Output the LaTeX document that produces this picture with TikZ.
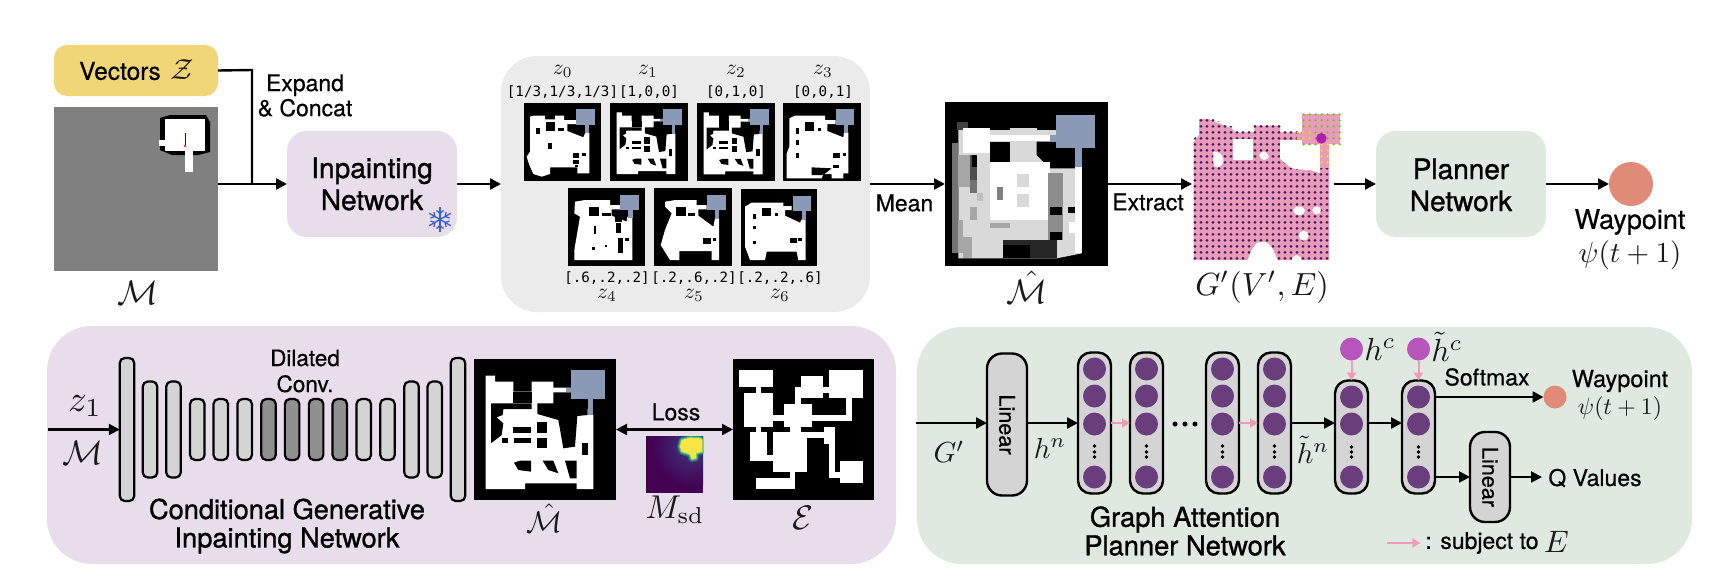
\documentclass[tikz,border=0pt]{standalone}
\usepackage[no-math]{fontspec}
\setmainfont[FakeBold=0.45]{TeX Gyre Heros}
\newfontfamily\medfont[FakeBold=1.1]{TeX Gyre Heros}
\newfontfamily\vecfont{DejaVu Sans Mono}
\usepackage{amsmath}
\usetikzlibrary{arrows.meta}
\definecolor{cyel}{HTML}{F0D677}
\definecolor{cpur}{HTML}{E8DDEB}
\definecolor{cgrn}{HTML}{DFE9DF}
\definecolor{cgry}{HTML}{EBEBEB}
\definecolor{cblu}{HTML}{8A99B5}
\definecolor{cbar}{HTML}{D4D4D4}
\definecolor{cdrk}{HTML}{8F8F8F}
\definecolor{cvio}{HTML}{6A3D7C}
\definecolor{cmag}{HTML}{B855BC}
\definecolor{csal}{HTML}{E08A78}
\definecolor{cpnk}{HTML}{F29BB5}
\definecolor{cgpk}{HTML}{E99BB9}
\definecolor{cdot}{HTML}{3F1A60}
\definecolor{csno}{HTML}{3A5FCD}
\definecolor{cpos}{HTML}{B01FB0}
\definecolor{vira}{RGB}{68,1,84}
\definecolor{vird}{RGB}{59,82,139}
\definecolor{vire}{RGB}{33,145,140}
\definecolor{virf}{RGB}{94,201,98}
\definecolor{virg}{RGB}{250,228,70}
\newcommand{\rectf}[5]{\fill[#1] (#2,#3) rectangle (#4,#5);}
\newcommand{\bkr}[4]{\fill[black] (#1,#2) rectangle (#3,#4);}
\newcommand{\wtr}[4]{\fill[white] (#1,#2) rectangle (#3,#4);}
\newcommand{\blr}[4]{\fill[cblu] (#1,#2) rectangle (#3,#4);}
% map A, in the frame of a 426 wide image whose corner is at (42,57)
\newcommand{\mapA}[3]{\begin{scope}[shift={(#1,#2)},scale={#3/426}]\begin{scope}[shift={(-42,-57)}]
\fill[white] (77,107)--(105,107)--(105,125)--(160,125)--(160,155)--(215,155)--(215,125)--(280,125)--(280,143)--(332,143)--(332,157)--(400,225)--(400,447)--(350,447)--(350,430)--(195,430)--(195,447)--(77,447)--cycle;
\fill[black] (160,155)--(215,155)--(215,190)--(160,190)--cycle;
\fill[black] (93,190)--(215,190)--(215,207)--(130,207)--(128,225)--(110,232)--(130,250)--(125,285)--(93,310)--cycle;
\fill[black] (232,190)--(280,190)--(280,157)--(332,157)--(383,178)--(383,225)--(352,228)--(345,320)--(310,325)--(295,240)--(232,222)--cycle;
\bkr{230}{245}{262}{280}\bkr{230}{293}{262}{325}\bkr{160}{262}{213}{280}\bkr{127}{295}{143}{310}\bkr{162}{295}{213}{310}\bkr{365}{310}{383}{345}
\fill[black] (162,368)--(180,362)--(213,362)--(213,395)--(175,390)--cycle;
\fill[black] (248,362)--(280,362)--(295,400)--(265,390)--cycle;
\fill[black] (315,362)--(350,362)--(350,415)--(330,415)--cycle;
\blr{332}{90}{435}{178}\blr{318}{143}{332}{157}\blr{383}{178}{400}{225}
\end{scope}\end{scope}}
\tikzset{
  x=1pt,y=-1pt,
  every node/.style={inner sep=0pt,outer sep=0pt},
  lab/.style={align=center,font=\fontsize{23}{25}\selectfont},
  headlab/.style={align=center,font=\fontsize{28}{32}\selectfont\medfont},
  mainlab/.style={align=center,font=\fontsize{27.2}{28.5}\selectfont\medfont},
  vlab/.style={font=\fontsize{14.2}{16}\selectfont\vecfont},
  mth/.style={text=black!90},
  img/.style={fill=black},
  bar/.style={draw=black,line width=2.2pt,fill=cbar,rounded corners=5pt,minimum width=14.5pt},
  darkbar/.style={bar,fill=cdrk},
  col/.style={draw=black,line width=2.4pt,fill=cbar,rounded corners=13pt,minimum width=33pt},
  linbox/.style={draw=black,line width=2.4pt,fill=cbar,rounded corners=15pt,minimum width=40pt},
  cell/.style={circle,fill=cvio,minimum size=23pt},
  top/.style={circle,fill=cmag,minimum size=23pt},
  conn/.style={line width=2.4pt,-{Triangle[length=11pt,width=11pt]},shorten >=0pt},
  line/.style={line width=2.4pt},
  both/.style={line width=2.4pt,{Triangle[length=11pt,width=11pt]}-{Triangle[length=11pt,width=11pt]}},
  pk/.style={line width=2pt,color=cpnk,-{Triangle[length=8pt,width=9pt]}},
}
\begin{document}
\begin{tikzpicture}
\path[fill=white,use as bounding box] (0,0) rectangle (1734,587);
\coordinate (y423) at (0,423);
\coordinate (y397) at (0,397);
\coordinate (y477) at (0,477);

% ---------- top row ----------
\node[fill=cyel,rounded corners=13pt,minimum width=164pt,minimum height=51pt] (vec) at (136,70.5) {};
\node[font=\fontsize{24.5}{26}\selectfont] (vectxt) at (120,71) {Vectors};
\node[mth,scale=2.9] (vecz) at (182,70) {$\mathcal{Z}$};

\node[fill=gray,minimum width=164pt,minimum height=164pt] (mapm) at (136,189) {};
\fill[black] (160,118)--(170,115)--(206,115)--(210,122)--(210,152)--(198,155)--(172,155)--(160,150)--cycle;
\wtr{165}{119}{205}{151}
\wtr{185}{151}{193}{172}
\wtr{159}{140}{165}{146}
\draw[blue!80!black,line width=.8pt] (185,133)--(185,145);
\fill[magenta!70!black] (185,146) circle[radius=1.4];
\node[mth,scale=3.4] (mlab) at (138,293) {$\mathcal{M}$};

\node[lab] (expand) at (305,95.5) {Expand\\\& Concat};

\node[fill=cpur,rounded corners=20pt,minimum width=170pt,minimum height=106pt] (inp) at (372,184) {};
\node[headlab] (inptxt) at (372,184) {Inpainting\\Network};
\foreach \a in {90,30,150}{
  \begin{scope}[shift={(440,219.5)},rotate=\a,line width=1.3pt,color=csno]
    \draw (-12.5,0)--(12.5,0);
    \foreach \s in {1,-1}{\draw (\s*9,-3.5)--(\s*6,0)--(\s*9,3.5);}
  \end{scope}
}

\node[fill=cgry,rounded corners=36pt,minimum width=369pt,minimum height=256pt] (pane) at (685.5,184) {};
\foreach \n/\x/\y in {z0/562.7/z_0,z1/648/z_1,z2/736/z_2,z3/823/z_3}{
  \node[mth,scale=2.15] (l\n) at (\x,71) {$\y$};
}
\foreach \n/\x/\y in {z4/607/z_4,z5/694/z_5,z6/780/z_6}{
  \node[mth,scale=2.15] (l\n) at (\x,295) {$\y$};
}
\node[vlab] (v0) at (562.5,92) {[1/3,1/3,1/3]};
\node[vlab] (v1) at (649,92) {[1,0,0]};
\node[vlab] (v2) at (736,92) {[0,1,0]};
\node[vlab] (v3) at (823,92) {[0,0,1]};
\node[vlab] (v4) at (607,278) {[.6,.2,.2]};
\node[vlab] (v5) at (694,278) {[.2,.6,.2]};
\node[vlab] (v6) at (780,278) {[.2,.2,.6]};

\node[img,minimum width=76.7pt,minimum height=77.4pt] (t0) at (562.3,142) {};
\node[img,minimum width=77.4pt,minimum height=77.4pt] (t1) at (649,142) {};
\node[img,minimum width=77.7pt,minimum height=77.4pt] (t2) at (736.1,142) {};
\node[img,minimum width=77.7pt,minimum height=77.4pt] (t3) at (822.2,142) {};
\node[img,minimum width=77.3pt,minimum height=77.7pt] (t4) at (606.7,227.2) {};
\node[img,minimum width=77.4pt,minimum height=77.7pt] (t5) at (693,227.2) {};
\node[img,minimum width=76.3pt,minimum height=77pt] (t6) at (779.2,227.5) {};
\mapA{610.3}{103.3}{77.4}
\mapA{697.3}{103.3}{77.7}
\begin{scope}[shift={(490,50)},scale=1/3]
% z0
\fill[white] (132,197)--(165,197)--(165,208)--(195,208)--(195,197)--(222,197)--(222,210)--(258,210)--(258,222)--(232,222)--(232,243)--(280,262)--(285,250)--(298,248)--(298,370)--(262,370)--(262,352)--(180,352)--(180,372)--(155,380)--(130,372)--(118,345)--(110,320)--(120,305)--(120,200)--cycle;
\bkr{168}{215}{195}{243}\bkr{205}{233}{222}{243}\bkr{138}{233}{150}{252}\bkr{175}{278}{187}{297}\bkr{248}{308}{268}{325}\bkr{275}{308}{287}{317}\bkr{250}{330}{268}{342}\bkr{255}{345}{265}{352}
\blr{258}{178}{314}{225}\blr{285}{225}{298}{250}
% z3
\fill[white] (898,205)--(915,197)--(1005,197)--(1005,210)--(1037,210)--(1037,222)--(1012,222)--(1012,243)--(1060,262)--(1062,248)--(1075,248)--(1075,370)--(1060,370)--(1060,385)--(1025,385)--(1025,372)--(1000,372)--(995,385)--(890,385)--(890,310)--(898,290)--cycle;
\bkr{945}{215}{972}{243}\bkr{985}{233}{993}{243}\bkr{918}{233}{927}{252}\bkr{918}{270}{927}{285}\bkr{918}{308}{927}{325}\bkr{1030}{308}{1050}{325}\bkr{1058}{308}{1067}{317}\bkr{1030}{345}{1048}{353}
\fill[black] (965,352)--(1025,355)--(1000,375)--(965,375)--cycle;
\blr{1037}{178}{1093}{225}\blr{1062}{225}{1075}{250}
% z4
\fill[white] (255,455)--(285,450)--(360,450)--(360,465)--(390,465)--(390,478)--(365,478)--(365,497)--(410,515)--(412,500)--(427,505)--(427,630)--(253,630)--(253,600)--(270,500)--(253,490)--cycle;
\bkr{298}{472}{327}{498}\bkr{337}{490}{362}{497}\bkr{312}{527}{318}{552}\bkr{378}{520}{392}{550}\bkr{305}{590}{315}{600}\bkr{345}{585}{352}{592}\bkr{385}{565}{400}{610}\bkr{405}{565}{418}{572}\bkr{375}{500}{395}{515}
\blr{390}{435}{447}{481}\blr{415}{481}{428}{505}
% z5
\fill[white] (525,455)--(557,450)--(620,450)--(620,465)--(650,465)--(650,478)--(625,478)--(625,497)--(670,530)--(675,505)--(687,505)--(687,630)--(665,630)--(665,603)--(568,603)--(568,630)--(540,630)--(512,585)--(525,540)--(545,490)--(525,470)--cycle;
\bkr{558}{472}{587}{498}\bkr{595}{490}{615}{498}\bkr{640}{565}{662}{583}\bkr{670}{565}{678}{572}
\blr{650}{435}{707}{481}\blr{675}{481}{688}{505}
% z6
\fill[white] (765,470)--(785,458)--(880,458)--(880,468)--(905,468)--(905,480)--(885,480)--(885,497)--(930,518)--(935,508)--(947,508)--(947,630)--(925,630)--(920,605)--(830,605)--(825,630)--(780,630)--(765,590)--cycle;
\bkr{817}{475}{843}{498}\bkr{855}{490}{863}{498}\bkr{788}{492}{798}{508}\bkr{788}{527}{798}{537}\bkr{788}{572}{798}{583}\bkr{900}{565}{920}{580}\bkr{925}{565}{935}{572}
\blr{908}{437}{964}{483}\blr{935}{483}{948}{508}
\end{scope}

% mean map
\node[img,minimum width=163pt,minimum height=164pt] (mean) at (1026.5,184) {};
\begin{scope}[shift={(900,80)},scale=1/3]
\rectf{black!75}{172}{125}{205}{150}
\rectf{black!55}{155}{190}{175}{520}
\fill[black!15] (175,150)--(545,150)--(545,520)--(470,535)--(175,535)--cycle;
\rectf{white}{190}{145}{270}{220}
\rectf{black!15}{330}{145}{410}{220}
\rectf{black}{270}{185}{330}{245}
\fill[black] (410,185)--(530,185)--(530,265)--(490,265)--(450,265)--(410,225)--cycle;
\rectf{white}{270}{165}{470}{182}
\rectf{white}{270}{245}{450}{420}
\rectf{black!15}{350}{283}{388}{322}
\rectf{black!15}{350}{343}{388}{380}
\rectf{black!35}{175}{225}{210}{320}
\rectf{black!70}{210}{225}{232}{300}
\rectf{black}{215}{225}{230}{260}
\rectf{black!55}{210}{300}{230}{340}
\rectf{black!50}{290}{320}{310}{360}
\rectf{black!35}{210}{380}{232}{420}
\rectf{black!25}{230}{340}{250}{362}
\rectf{black!45}{445}{280}{490}{480}
\rectf{black!15}{490}{300}{525}{430}
\rectf{black}{450}{380}{485}{405}
\rectf{black}{450}{455}{485}{480}
\rectf{black}{505}{380}{525}{400}
\rectf{white}{525}{260}{545}{520}
\rectf{white}{508}{425}{530}{460}
\rectf{black!35}{175}{420}{190}{520}
\rectf{black!35}{190}{470}{215}{535}
\rectf{black!35}{270}{430}{330}{445}
\rectf{black!85}{310}{480}{470}{535}
\rectf{black}{310}{495}{390}{535}
\blr{467}{105}{586}{203}\blr{450}{165}{467}{185}\blr{525}{203}{545}{260}
\end{scope}
\node[mth,scale=3.4] (mhat) at (1027,287) {$\hat{\mathcal{M}}$};

% graph
\coordinate (gin) at (1192,184);
\coordinate (gout) at (1334,184);
\begin{scope}[shift={(1185,105)},scale=1/3]
\def\gpoly{(42,42)--(70,42)--(140,70)--(150,82)--(208,82)--(208,62)--(285,62)--(285,82)--(352,82)--(352,100)--(352,118)--(405,118)--(432,118)--(432,465)--(30,465)--(26,465)--(26,112)--(42,90)--cycle}
\fill[cgpk] \gpoly;
\begin{scope}
\clip (38,38)--(75,38)--(145,66)--(160,76)--(204,76)--(204,56)--(290,56)--(290,78)--(352,78)--(352,108)--(438,108)--(438,470)--(22,470)--(22,108)--(36,88)--cycle;
\foreach \gx in {30,48,...,434}{
  \foreach \gy in {46,64,...,466}{
    \fill[cdot] (\gx,\gy) circle[radius=4.6];
  }
}
\end{scope}
\fill[white] (145,103)--(205,103)--(205,165)--(145,165)--cycle;
\fill[white] (85,140) to[out=10,in=90] (115,165) to[out=-90,in=0] (95,187) to[out=180,in=-90] (85,165)--cycle;
\fill[white] (222,152) to[out=60,in=180] (236,139) to[out=0,in=120] (252,155) to[out=-120,in=0] (236,165) to[out=180,in=-60] (222,152);
\fill[white] (285,105)--(352,105)--(352,118)--(405,118)--(405,205)--(375,195)--(360,195)--(320,190)--(295,170)--(285,160)--cycle;
\fill[white] (185,468) to[out=60,in=180] (232,410) to[out=0,in=120] (280,468)--cycle;
\fill[white] (342,317) ellipse[x radius=18,y radius=13];
\fill[white] (395,316) ellipse[x radius=13,y radius=12];
\fill[white] (356,392) circle[radius=15];
\fill[white] (335,468) ellipse[x radius=15,y radius=18];
\fill[cgpk] (352,28) rectangle (466,118);
\foreach \gx in {356,374,...,464}{
  \foreach \gy in {28,46,...,118}{
    \fill[green!55!yellow!80!black] (\gx,\gy) circle[radius=3.6];
  }
}
\fill[cgpk] (405,118) rectangle (432,190);
\foreach \gx/\gy in {338/82,338/100,356/82,356/100,374/82,374/100,410/118,428/118,410/136,428/136,410/154,428/154,410/172,428/172}{
  \fill[yellow!85!orange] (\gx,\gy) circle[radius=3.6];
}
\fill[cpos] (409,100) circle[radius=16];
\end{scope}
\node[mth,scale=3.2] (glab) at (1262,287) {$G'(V',E)$};

\node[fill=cgrn,rounded corners=20pt,minimum width=170pt,minimum height=106pt] (plan) at (1461,184) {};
\node[headlab] (plantxt) at (1461,185) {Planner\\Network};
\node[circle,fill=csal,minimum size=44pt] (wp) at (1631,184) {};
\node[font=\fontsize{27}{30}\selectfont] (wptxt) at (1630,222) {Waypoint};
\node[mth,scale=2.9] (wppsi) at (1630,255) {$\psi(t+1)$};

\node[lab] (meantxt) at (904.5,203) {Mean};
\node[lab] (extr) at (1148,202) {Extract};

\draw[line] (vec.east) -- (252,70) coordinate (jt) -- (252,183.5) coordinate (jb);
\coordinate (minr) at (218,184);
\draw[conn] (minr) -- (inp.west);
\draw[conn] (inp.east) -- (pane.west);
\draw[conn] (pane.east) -- (mean.west);
\draw[conn] (mean.east) -- (gin);
\draw[conn] (gout) -- (plan.west);
\draw[conn] (plan.east) -- (wp.west);

% ---------- bottom left ----------
\node[fill=cpur,rounded corners=45pt,minimum width=849pt,minimum height=238pt] (lpane) at (471.5,445) {};
\foreach \i/\xc/\h/\sty in {a/127/143/bar,b/150/96/bar,c/173.5/96/bar,d/197.3/61/bar,e/220.8/61/bar,f/244.7/61/bar,g/268.5/61/darkbar,h/292.1/61/darkbar,i/316.1/61/darkbar,j/339.8/61/darkbar,k/363.8/61/bar,l/387.5/61/bar,m/411.5/96/bar,n/434.8/96/bar,o/458/143/bar}{
  \node[\sty,minimum height=\h pt] (b\i) at (\xc,429.5) {};
}
\coordinate (lin) at (48,429.5);
\draw[conn] (lin) -- (ba.west);
\node[mth,scale=3.7] (zone) at (85,406) {$z_1$};
\node[mth,scale=3.4] (mtwo) at (83,453) {$\mathcal{M}$};
\node[lab,font=\fontsize{22.5}{26}\selectfont] (dil) at (305,371) {Dilated\\Conv.};
\node[mainlab] (cgin) at (287,526) {Conditional Generative\\Inpainting Network};

\node[img,minimum width=142pt,minimum height=141pt] (mh2) at (545,429.5) {};
\mapA{474}{359}{142}
\node[mth,scale=3.0] (mh2l) at (545,518) {$\hat{\mathcal{M}}$};

\node[img,minimum width=141pt,minimum height=141pt] (env) at (803.5,429.5) {};
\begin{scope}[shift={(725,350)},scale=1/3]
\wtr{41}{61}{143}{111}\wtr{92}{111}{109}{128}\wtr{58}{128}{143}{230}\wtr{143}{196}{177}{213}\wtr{177}{162}{262}{230}\wtr{262}{196}{380}{213}\wtr{363}{145}{380}{196}\wtr{312}{61}{414}{145}\wtr{295}{111}{312}{128}\wtr{228}{78}{295}{111}\wtr{211}{111}{295}{145}\wtr{211}{145}{228}{162}\wtr{194}{230}{228}{247}\wtr{92}{230}{109}{247}\wtr{75}{247}{126}{332}\wtr{126}{315}{143}{332}\wtr{143}{247}{245}{366}\wtr{245}{247}{296}{264}\wtr{296}{230}{329}{281}\wtr{312}{281}{329}{383}\wtr{329}{366}{346}{383}\wtr{346}{332}{414}{400}\wtr{194}{366}{211}{383}\wtr{92}{383}{211}{417}
\end{scope}
\node[mth,scale=3.4] (envl) at (803,518) {$\mathcal{E}$};

\draw[both] (mh2.east) -- (env.west);
\node[lab] (loss) at (676,412) {Loss};

\node[fill=vira,minimum width=57pt,minimum height=57pt] (msd) at (674.5,464.5) {};
\begin{scope}[shift={(460,340)},scale=1/3]
\begin{scope}
\clip (558,288) rectangle (729,458);
\shade[inner color=vird!70!vira,outer color=vira] (695,320) circle[radius=120];
\def\blob{(665,300)--(690,293)--(720,295)--(727,300)--(727,335)--(708,340)--(708,355)--(695,358)--(690,343)--(665,335)--(660,320)--cycle}
\draw[line width=6pt,line join=round,color=vird] \blob;
\draw[line width=4pt,line join=round,color=vire] \blob;
\draw[line width=2.2pt,line join=round,color=virf] \blob;
\fill[virg] \blob;
\end{scope}
\end{scope}
\node[mth,scale=3.3] (msdl) at (675,510) {$M_{\mathrm{sd}}$};

% ---------- bottom right ----------
\node[fill=cgrn,rounded corners=45pt,minimum width=775pt,minimum height=237pt] (rpane) at (1304.5,445.5) {};
\coordinate (gpin) at (916,423);
\node[linbox,minimum height=142pt] (lin1) at (1007,424.5) {};
\node[rotate=-90,font=\fontsize{21.6}{24}\selectfont] (lin1t) at (1007,424.5) {Linear};
\draw[conn] (gpin) -- (gpin -| lin1.west);
\node[mth,scale=2.9] (gpl) at (949,452) {$G'$};
\node[mth,scale=2.9] (hn) at (1050,448) {$h^n$};
\node[mth,scale=2.9] (thn) at (1313,450) {$\tilde{h}^n$};

\foreach \n/\cx in {c1/1094.5,c2/1146.5,c3/1222.5,c4/1274.5}{
  \node[col,minimum height=141pt] (\n) at (\cx,423) {};
  \foreach \m/\cy in {1/369,2/396,3/424,4/477}{
    \node[cell] (\n p\m) at (\cx,\cy) {};
  }
  \foreach \cy in {446,452,457}{\fill[black] (\cx,\cy) circle[radius=1.9];}
}
\foreach \n/\cx in {c5/1351.5,c6/1418.5}{
  \node[col,minimum height=113pt] (\n) at (\cx,437) {};
  \foreach \m/\cy in {1/397,2/424,3/477}{
    \node[cell] (\n p\m) at (\cx,\cy) {};
  }
  \foreach \cy in {447,452,457}{\fill[black] (\cx,\cy) circle[radius=1.9];}
}
\foreach \dx in {1175,1185,1195}{\fill[black] (\dx,424) circle[radius=2.5];}
\draw[conn] (lin1.east |- y423) -- (c1.west |- y423);
\draw[pk] (c1.east |- y423) -- (c2.west |- y423);
\draw[pk] (c3.east |- y423) -- (c4.west |- y423);
\draw[conn] (c4.east |- y423) -- (c5.west |- y423);
\draw[conn] (c5.east |- y423) -- (c6.west |- y423);

\node[top] (hc) at (1351.5,349) {};
\node[top] (thc) at (1418.5,349) {};
\draw[pk] (hc.south) -- (c5.north);
\draw[pk] (thc.south) -- (c6.north);
\node[mth,scale=3.2] (hcl) at (1380,349) {$h^c$};
\node[mth,scale=3.2] (thcl) at (1447,347) {$\tilde{h}^c$};

\node[circle,fill=csal,minimum size=23pt] (wp2) at (1555,397) {};
\draw[conn] (c6.east |- y397) -- (wp2.west);
\node[lab] (soft) at (1487,377) {Softmax};
\node[font=\fontsize{23.5}{25}\selectfont] (wp2t) at (1620,381) {Waypoint};
\node[mth,scale=2.37] (wp2p) at (1620,409) {$\psi(t+1)$};

\node[linbox,minimum height=90pt] (lin2) at (1490,477) {};
\node[rotate=-90,font=\fontsize{21.6}{24}\selectfont] (lin2t) at (1490,477) {Linear};
\draw[conn] (c6.east |- y477) -- (lin2.west);
\coordinate (qin) at (1542,477);
\draw[conn] (lin2.east) -- (qin);
\node[font=\fontsize{23}{25}\selectfont] (qv) at (1595,478) {Q Values};

\node[mainlab,font=\fontsize{27.3}{28.5}\selectfont\medfont] (gap) at (1185,531) {Graph Attention\\Planner Network};
\coordinate (lega) at (1387,543);
\node[font=\fontsize{23}{25}\selectfont] (legt) at (1482,543) {: subject to};
\draw[pk,shorten >=5pt] (lega) -- (legt.west);
\node[mth,scale=3.1] (lege) at (1556.5,542) {$E$};
\end{tikzpicture}
\end{document}
